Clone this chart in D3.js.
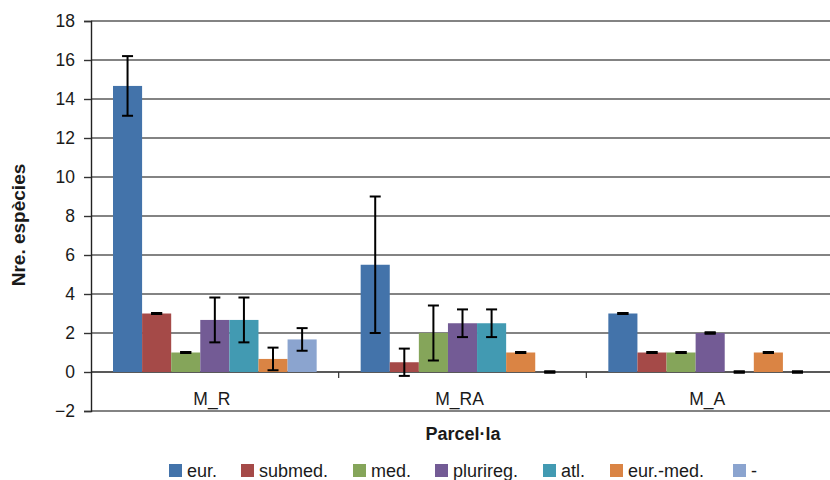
<!DOCTYPE html>
<html>
<head>
<meta charset="utf-8">
<script src="https://cdn.jsdelivr.net/npm/d3@7"></script>
<style>
  body { margin: 0; background: #fff; }
  text { font-family: "Liberation Sans", Arial, sans-serif; fill: #1a1a1a; }
</style>
</head>
<body>
<div id="chart"></div>
<script>
// Dades
const parceles = ["M_R", "M_RA", "M_A"];
const series = ["eur.", "submed.", "med.", "plurireg.", "atl.", "eur.-med.", "-"];
const colors = ["#4373AA", "#A54A48", "#85A55A", "#735B95", "#429AB2", "#DA8444", "#8BA4CF"];

// mitjanes per serie, en l'ordre de parceles
const means = {
  "eur.":      [14.67, 5.5, 3],
  "submed.":   [3, 0.5, 1],
  "med.":      [1, 2, 1],
  "plurireg.": [2.67, 2.5, 2],
  "atl.":      [2.67, 2.5, 0],
  "eur.-med.": [0.67, 1, 1],
  "-":         [1.67, 0, 0]
};
// error (+/-)
const errors = {
  "eur.":      [1.53, 3.5, 0],
  "submed.":   [0, 0.7, 0],
  "med.":      [0, 1.41, 0],
  "plurireg.": [1.15, 0.71, 0],
  "atl.":      [1.15, 0.71, 0],
  "eur.-med.": [0.58, 0, 0],
  "-":         [0.58, 0, 0]
};
const yTicks = [-2, 0, 2, 4, 6, 8, 10, 12, 14, 16, 18];

const W = 830, H = 480;
const svg = d3.select("#chart").append("svg")
    .attr("width", W).attr("height", H);

const x0 = d3.scaleBand().domain(parceles).range([91, 834]);
const x1 = d3.scaleBand().domain(series).range([22, x0.bandwidth() - 22]);
const y = d3.scaleLinear().domain([-2, 18]).range([411, 21]);

// gridlines
svg.append("g").selectAll("line")
    .data(yTicks)
    .enter().append("line")
    .attr("x1", 91).attr("x2", W)
    .attr("y1", d => y(d)).attr("y2", d => y(d))
    .attr("stroke", d => d == 0 ? "#222" : "#5a5a5a")
    .attr("stroke-width", 1.4);

// eix y
const yAxis = svg.append("g")
    .attr("transform", "translate(91,0)")
    .call(d3.axisLeft(y).tickValues(yTicks).tickSize(7).tickPadding(9)
        .tickFormat(d => d < 0 ? "\u2212" + Math.abs(d) : d));
yAxis.select(".domain").attr("stroke", "#222").attr("stroke-width", 1.4);
yAxis.selectAll(".tick line").attr("stroke", "#333").attr("stroke-width", 1.4);
yAxis.selectAll(".tick text").style("font-size", "17.5px").attr("fill", "#1a1a1a");

// ticks de categoria
svg.append("g").selectAll("line")
    .data(parceles.slice(1))
    .enter().append("line")
    .attr("x1", d => x0(d)).attr("x2", d => x0(d))
    .attr("y1", y(0)).attr("y2", y(0) + 6)
    .attr("stroke", "#333").attr("stroke-width", 1.2);

svg.append("g").selectAll("text")
    .data(parceles)
    .enter().append("text")
    .attr("x", d => x0(d) + x0.bandwidth() / 2 - 3)
    .attr("y", 405)
    .attr("text-anchor", "middle")
    .style("font-size", "17.5px")
    .text(d => d);

// barres
const groups = svg.append("g").selectAll("g")
    .data(parceles)
    .enter().append("g")
    .attr("transform", d => `translate(${x0(d)},0)`);

groups.selectAll("rect")
    .data((p, i) => series.map((s, j) => ({s: s, v: means[s][i], e: errors[s][i], c: colors[j]})))
    .enter().append("rect")
    .attr("x", d => x1(d.s))
    .attr("width", x1.bandwidth())
    .attr("y", d => y(Math.max(0, d.v)))
    .attr("height", d => Math.abs(y(d.v) - y(0)))
    .attr("fill", d => d.c);

// barres d'error
const errs = groups.selectAll("g.err")
    .data((p, i) => series.map(s => ({s: s, v: means[s][i], e: errors[s][i]})))
    .enter().append("g").attr("class", "err")
    .attr("transform", d => `translate(${x1(d.s) + x1.bandwidth() / 2},0)`);

errs.append("line")
    .attr("x1", 0).attr("x2", 0)
    .attr("y1", d => y(d.v + d.e)).attr("y2", d => y(d.v - d.e))
    .attr("stroke", "#000").attr("stroke-width", 2);
errs.append("line")
    .attr("x1", -5.5).attr("x2", 5.5)
    .attr("y1", d => y(d.v + d.e)).attr("y2", d => y(d.v + d.e))
    .attr("stroke", "#000").attr("stroke-width", d => d.e == 0 ? 3 : 2);
errs.append("line")
    .attr("x1", -5.5).attr("x2", 5.5)
    .attr("y1", d => y(d.v - d.e)).attr("y2", d => y(d.v - d.e))
    .attr("stroke", "#000").attr("stroke-width", d => d.e == 0 ? 3 : 2);

// titols d'eixos
svg.append("text")
    .attr("transform", "translate(25,225) rotate(-90)")
    .attr("text-anchor", "middle")
    .style("font-size", "19px").style("font-weight", "bold")
    .text("Nre. espècies");

svg.append("text")
    .attr("x", 463).attr("y", 440)
    .attr("text-anchor", "middle")
    .style("font-size", "18px").style("font-weight", "bold")
    .text("Parcel·la");

// llegenda
const legendX = [169, 241, 353, 435, 543, 610, 733];
const leg = svg.append("g").selectAll("g")
    .data(series)
    .enter().append("g")
    .attr("transform", (d, i) => `translate(${legendX[i]},464)`);
leg.append("rect")
    .attr("width", 13).attr("height", 13)
    .attr("fill", (d, i) => colors[i]);
leg.append("text")
    .attr("x", 18).attr("y", 13)
    .style("font-size", "18px")
    .text(d => d);
</script>
</body>
</html>
